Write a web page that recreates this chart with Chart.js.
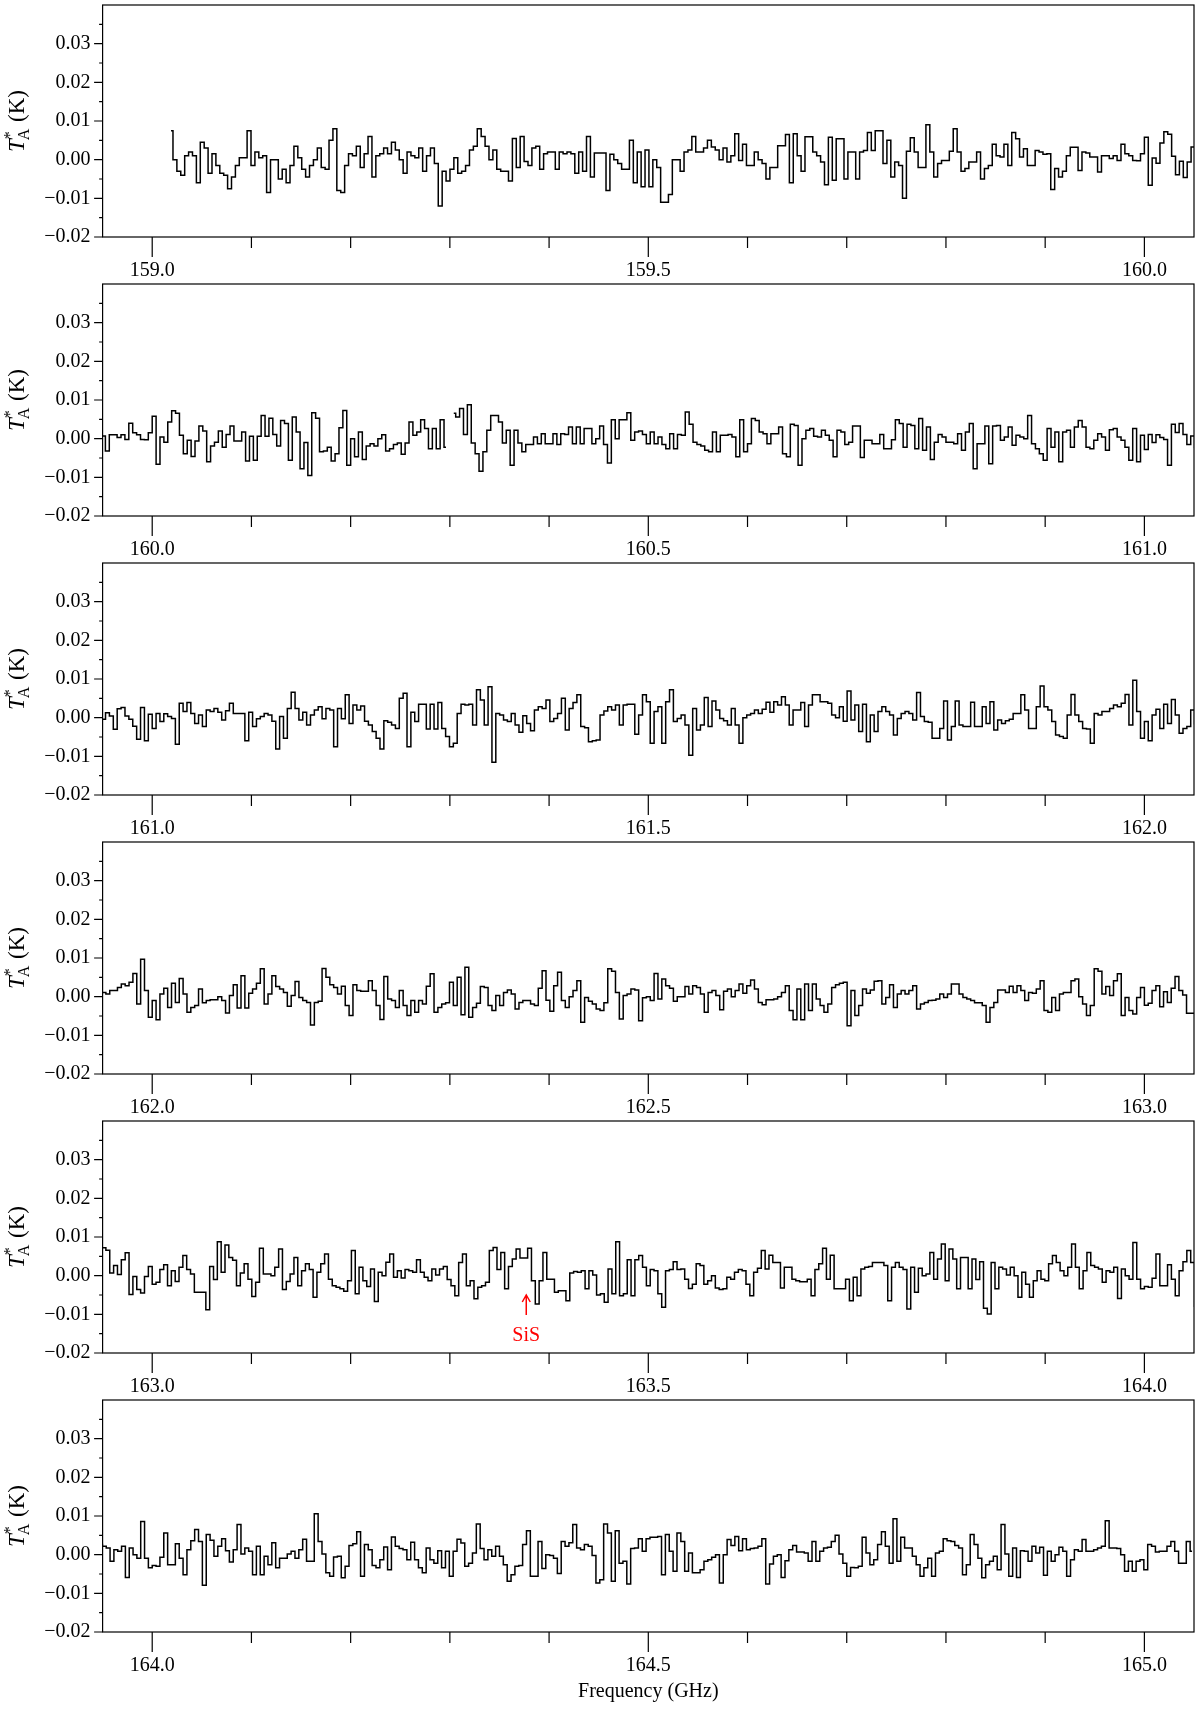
<!DOCTYPE html>
<html>
<head>
<meta charset="utf-8">
<script src="https://cdn.jsdelivr.net/npm/chart.js@4.4.1/dist/chart.umd.min.js"></script>
<style>
  html, body { margin: 0; padding: 0; background: #fff; }
  #page { position: relative; width: 1200px; height: 1713px; background: #fff; }
  #page canvas { position: absolute; left: 0; }
</style>
</head>
<body>
<div id="page"></div>
<script>
// antenna temperature in mK, one array per GHz of the sweep
var seg159 = [7.5, 0, -3, -4, 1, 2, 1, -6, 4.5, 3, -3.5, 1.5, -1.5, -3.5, -4, -7.5, -4.5, -1.5, 0.5, 0.5,
    7.5, -1.5, 2, 0.5, 1, -8.5, 0, 0, -5, -2.5, -6, -1.5, 3.5, 0.5, -2.5, -4.5, -1.5, 0, 3, -2,
    -2.5, 5, 8, -8, -8.5, -1.5, 1.5, 1, 3.5, -2, 1.5, 6, -4.5, 1, 1.5, 3, 1.5, 4.5, 2.5, 0,
    -3.5, 2, 1, 0.5, 3, -3, 1, 3, -1, -12, -3, -5.5, -2.5, 0.5, -3.5, -3, -1.5, 2.5, 3.5, 8,
    6, 3.5, 0, 2.5, -2.5, -3, -3, -5.5, 5.5, -2, 6, -0.5, -1.5, 3, 3.5, -2.5, 1.5, 2, 2, -2.5,
    2, 1.5, 2, 1.5, -3.5, 2, -3, 6, -4.5,
    1.7, 1.7, 1.7, -8, 1.4, 0, -1, -2.5, -2.5, 5, -6, 2, -7, 2.5, -7, 0, -2, -11, -11, -9,
    0, 0, -3, 2, 2.5, 6, 2, 2, 3, 5, 3.3, 2.5, 0, 3, -0.6, 1, 6.7, -0.2, 4, -1.5,
    -1.5, 2, 0, -1, -5, -2, -2, 3.6, 3.6, 6.5, -6, 6.7, 1, -3, 5.9, 5.9, 2, 1, -0.6, -6.5,
    5.8, -5.3, 5.4, 5.4, -5, 2, 2, -5, 2, 2.4, 7, 2.4, 7.5, 7.5, -1, 5, -4.5, -0.6, -1.5, -10,
    2.2, 5.7, 2, -2, -2, 9, 2, -4.5, -1, -0.2, -0.2, 2.2, 8, 2, -3, -2.3, -0.6, -0.6, 2, -5,
    -2.3, -1.5, 4, 1, 0.7, 4, -1.5, 7, 5.4, 0.7, 2.8, -1.5, -1.5, 2.4, 2, 1.4, 1.5, -7.7, -2.3, -4.5,
    -3, 1, 3.2, 3.2, -2.8, 2, 1.7, 0.7, 0.7, -3.2, 1, 1, 0.3, 1, -0.2, 4, 1.5, 1, -0.2, -0.3, 1.5];

// null = blanked channel near 160.30 GHz
var seg160 = [5.8, -6.6, 0.4, -0.9, 4.3, 7.2, 6.6, 0.9, -3.9, -0.4, -4.6, -0.6, 3.3, 2, -6, -1.9, -0.9, 2, -2.2, 1.1,
    3.3, -0.6, -0.6, 1.7, -5.8, 0.6, -5.6, 0.6, 6, 0.6, 5.3, 1.1, -1.9, 4.7, 3.9, -5.6, 5.6, 1.7, -7.8, -1,
    -9.5, 6.7, 5.3, -3.4, -3.2, -2.2, -5.8, -3.9, 2.8, 7.3, -6.9, 0, -4.7, 1.7, -5.4, -1.9, -1.3, -1.9, 0, 1,
    -3.2, -2.6, -1.5, -1.1, -4, -1.1, 4.3, 0.9, 1.7, 4.9, 2.6, -2.6, 2.6, -2.6, 4.9, -2.2, null, 6.6, 5.6, 7.8,
    1.1, 8.8, -1.1, -3.9, -8.4, -3.4, 2.2, 6, 6, 4.3, -1.1, 2.2, -6.9, 2.2, -1.1, -3.4, -1.5, -1.5, 0.4, -1.3,
    1.3, -1.3, -1.3, 1.3, -1.5, 1.3, 1.1, 3, -1.3, 3, -1.3, 2.6, 2.6, -1.3,
    0, 3.3, -1.5, -6.3, 4.9, 0, 4.9, 4.9, 6.7, -0.4, 1.7, 2, 1.1, -1.3, 1.7, -1.3, 0.4, -1.5, -2.6, 1.3,
    -2.6, 1.1, 0.9, 6.9, 3.7, -0.9, -1.5, -1.9, -3, -3.4, 1.7, -3.4, 0.9, 0.9, 1.1, 0.4, -4.7, 4.9, -3.4, -1.3,
    5.2, 4.7, 1.7, 1.3, -1.3, 1.3, 1.3, 3, -3.9, -4.7, 3.7, 3.4, -6.9, 0, 2.2, 2.6, 0.6, 0.4, 2.2, 0.9,
    -0.4, -4.7, 2.2, 1.7, -1.5, -0.9, 3.3, 3.3, -4.9, -0.4, -0.4, -1.3, -1.3, 1.1, -2.6, -2.6, -0.3, 4.9, 3.9, -2.2,
    3.7, 3.4, -2.6, 5.2, -3, 3, -5.4, -0.9, 1.1, 0.4, -0.9, -0.9, -1.3, 1.3, -3, 1.7, 3.9, -7.8, -1.3, -1.3,
    3.3, -6.5, 3.3, 3.4, -0.4, 0.4, 3, -1.7, 0.9, 0.4, 0, 6, -1.3, -2.6, -3.9, -5.6, 2.6, -2.2, 1.7, -6,
    1.7, 2.2, -2.2, 3, 4.7, 3, -2.2, -2.6, -0.4, 1.3, 0.4, -3, 2.3, 2.6, 0.4, -0.4, -2.2, -5.6, 2.6, -6, 0.9];

var seg161 = [-2.8, 1.1, -1, 1, 0.3, -0.2, -6.9, 3.7, 1.6, 3.9, 1.1, -1.5, 0.7, -2.3, 2, 1.6, 2.4, 1.4, -0.6, 1.8,
    3.7, 1.1, 1.1, 1.1, -6, 1.4, -2.3, -0.3, 0.3, 1.1, 0.7, -0.9, -8.1, 0.3, -5.3, 2.4, 6.6, 2.4, -0.6, 1.4,
    -1.9, 0.7, 2, 2.8, -0.3, 2.4, 2, -7.5, 2.4, -0.3, 5.9, -1.5, 3.3, 2, 3, -0.9, -1.9, -3.6, -5.3, -8.1,
    -0.8, -1.2, -1.9, -2.8, 5, 6.3, -7.5, 1.4, -1, 3.5, 3.5, -2.9, 3.5, -2.9, 3.9, -2.8, -4.9, -7.5, -6.6, 1.1,
    3.5, 3.3, 3.5, -1.9, 7.2, 4.6, -1.9, 8, -11.5, 1.1, 0.7, -0.6, -1, 1.1, -1.9, -3.8, 0.5, -1.5, -3.4, 2,
    2.8, 2.4, 4.6, -1, -0.2, 1.1, 5, -3.2, 2.4, 3.9, 5.9, -2.3, -2.6, -6.2, -6,
    -5.8, 0.7, 1.7, 2.8, 2, 3.3, -1.9, 3.3, 3.5, 3.5, -4.3, 0.7, 5.9, 4.1, -6.6, 1.6, 2.8, -6.6, 4.1, 7.2,
    -1, -0.2, 0.7, -1.9, -9.7, 2.4, -3.2, -1.9, 5.2, -2.3, 4.3, 2, -0.2, -0.8, -1.9, 2.4, -1.9, -6.6, 0, 0.7,
    1.1, 2, 1.1, 2.2, 4, 1.4, 4.1, 3.3, 5.4, 3.3, -1.9, 2, 2, 3.9, -2.3, 3.3, 5.9, 5.9, 4.1, 4.1,
    3.7, 0.7, 0, 2.8, -0.9, 6.9, -0.6, 3.3, -3.6, 3.5, -6.2, 0.7, -3.6, 1.6, 2.8, 1.6, 0.7, -4.5, -0.2, 1.1,
    1.6, 1.1, -0.6, 6.5, 0.3, -1, -1.2, -5.3, -5.3, -2.8, 4.3, -5.8, -2.3, 4.3, -1.9, -2.3, -2.3, 4, -2.3, -2.3,
    2.8, -1.5, 4.1, -3.2, -0.6, -1.5, -0.8, -0.4, 1.1, 1.1, 5.9, 2, -2.8, -2.8, 2.8, 8.2, 2.8, 2, -1, -4.5,
    -4.9, -5.3, 0.7, 6, 0.7, -1, -2.8, -2.9, -6.6, 1.1, 0.7, 1.6, 1.6, 2.4, 3.3, 2.8, 3.7, 6, -1.9, 9.7,
    1.6, -5.3];

var seg162 = [-1, -6, 0.7, 2.2, -2.8, 3.5, -1.5, 4.7, 0.7, -4, -2.8, -2.3, 2, -1.6, -1, -0.8, -0.8, 0, -1, -4.2,
    0.3, 3.1, -2.9, 5.4, -2.9, 0.9, 2, 3.5, 7.2, -1.9, 0.7, 5.4, 2.6, 2, 1.1, -2.5, 0.3, 3.9, -0.2, -1,
    -1.5, -7.3, -1.5, -1.2, 7.3, 5, 3.1, 2.4, 0.7, 2.7, -2.3, -4.9, 3.1, 1.6, 1.4, 1.4, 4.1, 1.6, -2.3, -5.9,
    5.2, -0.6, -1, -2.8, 1.6, -2.3, -4.9, -1, -4, -1, -1.9, 2.7, 5.9, -4, -2.8, -1.9, -1.6, 3.7, -2.3, 5,
    -4.7, 7.6, -5.3, -2.8, -1.7, 2.6, 2.4, -2.3, -3.6, 0.3, -2.3, 1.1, 1.7, 0.7, -3.2, -1.5, -1, -1, -1.9, -2.3,
    2.2, 6.7, -0.9, -3.8, 2.8, 6.3, -1, -2.8, 0, 1.6, 4.1, -6.6, -0.2, -1.2, -1.9, -3.2,
    -3.6, -1.6, 7.2, 6.6, 1.1, -5.8, 0.3, 0.7, 2, 1.7, -6.2, -0.3, 0, -1, 6, -0.6, 4.6, 2.8, 2.2, -1.2,
    0, 0, 2.6, 0.7, 2.8, 2.4, 0.7, -4, 1.1, 1.6, 0.3, -3.4, 1.4, 2, 0, 1.6, 3.3, 0.9, 2.8, 4.3,
    2, -1.5, -2.1, -0.8, -0.8, -0.6, 0, 1.1, 2.8, -3.6, -6, 2, -6, 3.3, -3.6, 3.3, -0.6, -2.3, -4, -1.9,
    2.4, 3.1, 3.5, 3.7, -7.5, 1.6, -4.9, -2.3, 2, 0.9, 1.7, 4, 4.1, -1.9, -0.2, 3.1, -2.8, 0.7, 1.6, 0.7,
    1.6, 2.8, -3.2, -1.9, -1.5, -1, -0.9, -0.6, 0.7, -0.2, 0.7, 3.3, 3.3, 0.7, -0.2, -0.6, -1, -1.6, -1.6, -2.3,
    -6.6, -2.8, -1.5, 1.7, 1.7, 1.1, 2.7, 1.1, 2.8, 1.6, -1, 1.1, 0.9, 2, 4.1, -3.6, -4, -0.2, -3.6, 0.7,
    1.1, 1.1, 4.1, 4.6, 0, -1.9, -4.9, -2.3, 7.2, 6.6, 0.7, 2.6, 0.3, 4.1, 5.9, -4.9, -0.2, -3.6, -4.5, -0.2,
    2.4];

var seg163 = [-2.2, -1.7, 1.6, 2.8, -2.6, 1.3, -1.5, 2.2, 5.2, 1.6, 0.4, -4.3, -4.3, -4.3, -8.8, 2.4, -1, 8.8, 0.9, 7.9,
    4.7, 4, -2.6, 0.7, 3.1, -0.9, -5.4, -1.7, 7.1, 0.4, 0.4, 0, 2.2, 6.9, -3.6, -1.5, 0.4, 4.7, -2.6, 1.3,
    3.1, 1.6, -5.6, 0.9, 3.1, 5.6, -0.9, -2.6, -3, -3.4, -4, -1.3, 6.5, -4.7, 2.2, -1.3, -2.8, 1.7, -6.7, 0.9,
    0, 3.5, 5.6, -0.4, 1.3, -0.6, 1.6, 1.3, 0.9, 4.1, 0.9, -0.4, -1.3, 1.7, 0.2, 1.7, 2.4, -1, -2.6, -5.2,
    3.4, 5.6, -2.6, -1.3, -6, -3, -2.6, -1.7, 6.5, 7.3, 1.6, 6, -3.4, 2.4, 4.3, 6.9, 4.6, 4.6, 7.1, -1.3,
    -7.3, -1.3, 6, -0.9, -0.9, -4.3, -3.9, -3.9, -6.5, 0.7, 1.1, 0.9, 1.3, -3.4, 1.3, 0.2, -5,
    -4.7, -6.9, 1.7, -4.7, 8.8, -5.2, -4.7, 4.1, -5.2, 4.1, 5.2, 2.2, -2.6, 1.6, 1.3, -4.7, -8.2, 1.3, 1.6, 3.6,
    1.6, 1.7, -0.9, -3.3, -2.2, 3.1, 2.6, -2.2, -1.3, 0, -3.2, -3.6, -3.4, -0.4, -0.9, 0.9, 1.6, 1.3, -2.2, -5.2,
    0.9, 1.9, 6.5, 1.7, 5.3, 3.4, 3.4, -3.2, 2.2, 2.2, -0.9, -1.3, -1.6, -1.6, -0.9, -5.2, 1.6, 3.1, 7.1, -0.9,
    5.3, -3.4, -3.4, -3.4, -0.9, -6.5, -0.4, -5.2, 1.7, 2.2, 2.4, 3.4, 3.4, 3.4, 2.6, -6.5, 2.2, 3.4, 2.2, 1.6,
    -8.6, 2.2, -4.3, 1.9, 0, 0.4, 6, -0.9, 4.3, 8.2, -1.3, 6.9, 4.3, -3.4, 4.7, 4.7, -3.4, 4.3, -1, 3.6,
    -8.4, -9.9, 3.4, -3.4, 2.2, 1.7, 0.2, 2.2, 0, -5.6, 0.9, -2.2, -5.6, -1.3, 1.3, -0.9, -1.3, 3.1, 5.2, 3.4,
    1.3, 0, 2.2, 8.2, 2.2, -3.4, 1.3, 6, 2.6, 2.2, 1.7, -1.7, 1.3, 0.9, 2.2, -5.9, 1.7, 0, -0.9, 8.6,
    -0.9, -3.4];

var seg164 = [-2.8, -3, -0.7, 5.6, -2.6, -2.6, 2.8, -0.9, -5.2, 1.3, 3.6, 6.5, 3.4, -7.9, 5.2, 3.7, -0.4, 2.2, 4.1, 1,
    -1.9, 1.3, 7.8, 0.2, 1.7, 0.9, -5.2, 2.2, -5.2, -0.4, -2.6, 3.1, -3.4, -0.9, -0.9, 0.2, 0.9, -0.9, 1.3, 4,
    -1.7, -1.7, 10.6, 3.4, 0.2, -4.7, -5.6, -0.6, -0.4, -6, -3, 2.4, 2.8, 5.9, -5.6, 2.6, 1.3, -2.8, -3.4, -1.3,
    2, -3.9, 4.6, 2.2, 1.6, 1.3, -1.3, 3.2, -1.3, -3.4, -4.7, 1.7, -1.3, -2.2, 1, -3.4, 0.9, -5.6, 0.9, 4,
    3, -3, -2.2, 0.4, 7.9, 1.6, -1.3, 1.3, -0.4, 2.2, -0.4, -2.6, -6.9, -5.2, -3, -2.8, 2.6, 6.2, -5.6, -5.6,
    3.4, -3.6, 0, -0.2, -0.9, -4.9, 3.4, 2.2, 3.1, 7.8, 1.7, 1.3, 2.6, 2.2, -0.2, -7.3,
    -6.5, 7.9, 5.6, -6.9, 6.2, -2.2, -1.7, -7.6, 1.6, 1.7, 4.1, 0.9, 4.1, 4.5, 4.5, 4.7, -5.2, 5.2, 0.9, -4.3,
    5.6, 3.4, -4.3, 0.4, -4.7, -4.7, -3.9, -1.7, -1.3, -0.7, 0, -7.3, 0, 3.9, 2.4, 4.7, 1, 4.1, 1.3, 1.6,
    1.7, 2.2, 4.1, -7.6, -2.4, -0.4, 0, -5.9, -1.6, 1.3, 2.4, 0.7, 0.7, 0.4, -1.7, 3.4, -1.7, 0.9, 1.7, 1.9,
    3.4, 5, 0.2, -2.2, -5.6, -3.3, -3.4, -3, 4.5, 0.4, -2.6, -1.3, 2.6, 5.9, 2.2, -2.2, 9.3, -1.7, 4.5, 1.7,
    1.7, -0.4, -2.6, -5.6, -3.4, -0.9, -5.6, 0.4, 0.9, 4.1, 3.6, 3.4, 2.4, 1.7, -5.2, -2.6, 5.2, 2.6, -0.9, -6,
    -2.6, -1.7, -0.4, -3.9, 7.8, 0.2, -5.6, 1.7, -5.9, 1, 0.9, -1.7, 2.2, 0.4, 1.9, -5.3, 0.9, -1.7, 0, 1.9,
    0.9, -5.6, -1.3, 1.3, 0.9, 3.9, 0.9, 0.9, 1.3, 1.7, 2.2, 8.8, 1.7, 1.7, 1.6, 0, -4.3, -1.7, -4.3, -1.7,
    -1.3, -3.9, 2.6, 2.2, 0.7, 0.9, 0.9, 2.2, 3.4, 0.9, -2.2, -2.2, 3.4, 0.9];

// frequency span (GHz) covered by each array
var segStart = [159.017, 160.0, 161.0, 162.0, 163.0, 164.0];
var segEnd = [160.0, 161.0, 162.0, 163.0, 164.0, 165.05];
var segValues = [seg159, seg160, seg161, seg162, seg163, seg164];

var panelStarts = [159, 160, 161, 162, 163, 164];
var yTickValues = [-0.02, -0.01, 0, 0.01, 0.02, 0.03];
var yMinorValues = [-0.015, -0.005, 0.005, 0.015, 0.025, 0.035];

// line identification
var lineFreqs = [163.377];
var lineNames = ['SiS'];

var SERIF = '"Liberation Serif", "Times New Roman", serif';

var spectrum = [];
for (var s = 0; s < segValues.length; s++) {
    var vals = segValues[s];
    var w = (segEnd[s] - segStart[s]) / vals.length;
    for (var i = 0; i < vals.length; i++) {
        spectrum.push({x: segStart[s] + (i + 0.5) * w, y: vals[i] === null ? null : vals[i] / 1000});
    }
}

function fmtY(v) {
    var t = Math.abs(v).toFixed(2);
    return v < -1e-9 ? '\u2212' + t : t;
}

function drawYTitle(ctx, x, y) {
    ctx.save();
    ctx.translate(x, y);
    ctx.rotate(-Math.PI / 2);
    ctx.fillStyle = '#000';
    ctx.textBaseline = 'alphabetic';
    ctx.textAlign = 'left';
    var fIt = 'italic 23px ' + SERIF, fBig = '23px ' + SERIF, fSmall = '16px ' + SERIF;
    ctx.font = fIt; var wT = ctx.measureText('T').width;
    ctx.font = fSmall; var wS = Math.max(ctx.measureText('*').width, ctx.measureText('A').width);
    ctx.font = fBig; var wK = ctx.measureText(' (K)').width;
    var cx = -(wT + wS + wK) / 2;
    ctx.font = fIt; ctx.fillText('T', cx, 0); cx += wT;
    ctx.font = fSmall; ctx.fillText('*', cx, -9); ctx.fillText('A', cx - 1, 5); cx += wS;
    ctx.font = fBig; ctx.fillText(' (K)', cx, 0);
    ctx.restore();
}

function decor(k, xTicks) {
    return {
        id: 'decor' + k,
        afterDraw: function(chart) {
            var ctx = chart.ctx, a = chart.chartArea;
            var xs = chart.scales.x, ys = chart.scales.y;
            ctx.save();
            ctx.strokeStyle = '#000';
            ctx.lineWidth = 1.2;
            ctx.strokeRect(a.left, a.top, a.right - a.left, a.bottom - a.top);
            ctx.beginPath();
            xTicks.forEach(function(t) {
                var px = xs.getPixelForValue(t);
                var len = Math.round(t * 10) % 5 === 0 ? 20 : 11;
                ctx.moveTo(px, a.bottom);
                ctx.lineTo(px, a.bottom + len);
            });
            yTickValues.forEach(function(t) {
                var py = ys.getPixelForValue(t);
                ctx.moveTo(a.left, py);
                ctx.lineTo(a.left - 8.5, py);
            });
            yMinorValues.forEach(function(t) {
                var py = ys.getPixelForValue(t);
                ctx.moveTo(a.left, py);
                ctx.lineTo(a.left - 3.5, py);
            });
            ctx.stroke();

            drawYTitle(ctx, 24, (a.top + a.bottom) / 2);

            // line markers
            lineFreqs.forEach(function(f, j) {
                if (f < xs.min || f > xs.max) return;
                var px = xs.getPixelForValue(f);
                var tip = ys.getPixelForValue(-0.005);
                var tail = ys.getPixelForValue(-0.0102);
                ctx.strokeStyle = '#ff0000';
                ctx.fillStyle = '#ff0000';
                ctx.lineWidth = 1.5;
                ctx.beginPath();
                ctx.moveTo(px, tail);
                ctx.lineTo(px, tip);
                ctx.moveTo(px - 4, tip + 7);
                ctx.lineTo(px, tip);
                ctx.lineTo(px + 4, tip + 7);
                ctx.stroke();
                ctx.font = '20px ' + SERIF;
                ctx.textAlign = 'center';
                ctx.textBaseline = 'middle';
                ctx.fillText(lineNames[j], px, ys.getPixelForValue(-0.0155));
            });

            if (k === panelStarts.length - 1) {
                ctx.fillStyle = '#000';
                ctx.font = '20px ' + SERIF;
                ctx.textAlign = 'center';
                ctx.textBaseline = 'middle';
                ctx.fillText('Frequency (GHz)', (a.left + a.right) / 2, 297);
            }
            ctx.restore();
        }
    };
}

var page = document.getElementById('page');

function makePanel(k) {
    var n = panelStarts[k];
    var h = k === panelStarts.length - 1 ? 318 : 279;
    var canvas = document.createElement('canvas');
    canvas.width = 1200;
    canvas.height = h;
    canvas.style.top = (279 * k) + 'px';
    page.appendChild(canvas);

    var xTicks = [];
    for (var i = 0; i <= 10; i++) xTicks.push(Math.round((n + i / 10) * 10) / 10);
    var pts = spectrum.filter(function(p) { return p.x > n - 0.06 && p.x < n + 1.06; });

    new Chart(canvas, {
        type: 'line',
        data: {
            datasets: [{
                data: pts,
                stepped: 'middle',
                borderColor: '#000',
                borderWidth: 1.5,
                pointRadius: 0,
                fill: false,
                spanGaps: false
            }]
        },
        options: {
            responsive: false,
            animation: false,
            devicePixelRatio: 1,
            layout: {padding: {top: 5, right: 6, left: 0, bottom: 0}},
            plugins: {
                legend: {display: false},
                tooltip: {enabled: false}
            },
            scales: {
                x: {
                    type: 'linear',
                    min: n - 0.05,
                    max: n + 1.05,
                    grid: {display: false, drawTicks: false},
                    border: {display: false},
                    afterBuildTicks: function(ax) { ax.ticks = xTicks.map(function(v) { return {value: v}; }); },
                    afterFit: function(ax) { ax.height = h - 237; ax.paddingLeft = 0; ax.paddingRight = 0; },
                    ticks: {
                        autoSkip: false,
                        maxRotation: 0,
                        padding: 22,
                        color: '#000',
                        font: {family: SERIF, size: 20},
                        callback: function(v) { return Math.round(v * 10) % 5 === 0 ? v.toFixed(1) : ''; }
                    }
                },
                y: {
                    min: -0.02,
                    max: 0.04,
                    grid: {display: false, drawTicks: false},
                    border: {display: false},
                    afterBuildTicks: function(ax) { ax.ticks = yTickValues.map(function(v) { return {value: v}; }); },
                    afterFit: function(ax) { ax.width = 102.6; ax.paddingTop = 0; ax.paddingBottom = 0; },
                    ticks: {
                        padding: 12,
                        color: '#000',
                        font: {family: SERIF, size: 20},
                        callback: function(v) { return fmtY(v); }
                    }
                }
            }
        },
        plugins: [decor(k, xTicks)]
    });
}

for (var k = 0; k < panelStarts.length; k++) makePanel(k);
</script>
</body>
</html>
